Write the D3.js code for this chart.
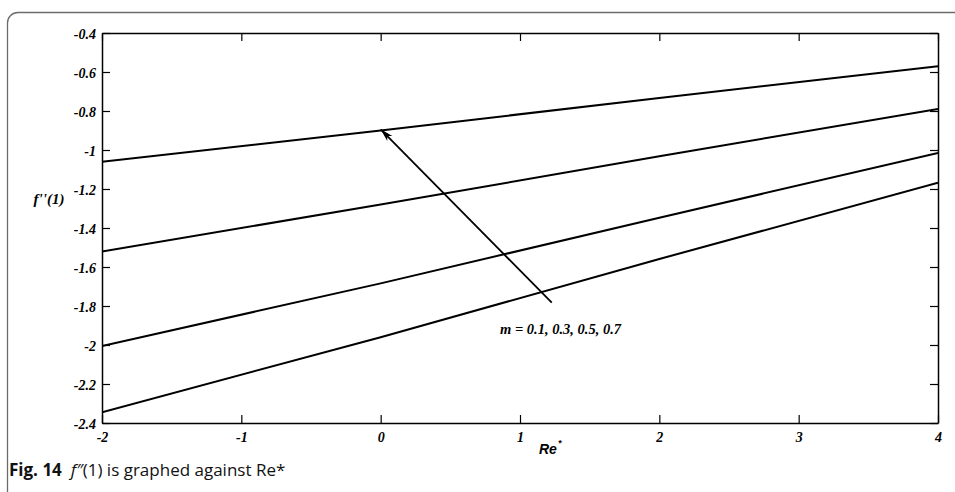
<!DOCTYPE html>
<html>
<head>
<meta charset="utf-8">
<script src="https://cdn.jsdelivr.net/npm/d3@7"></script>
<style>
  html, body { margin: 0; padding: 0; background: #fff; }
  svg { display: block; }
  .tick text { font-family: "Liberation Serif", "Times New Roman", serif; font-weight: bold; font-style: italic; font-size: 14px; fill: #000; }
</style>
</head>
<body>
<svg id="chart" width="955" height="492"></svg>
<script>
// Re* sample positions and the wall shear f''(1) for each m
const reValues = [-2, 0, 2, 4];
const mValues = ["0.1", "0.3", "0.5", "0.7"];
const fppM01 = [-2.345, -1.96, -1.559, -1.168];
const fppM03 = [-2.005, -1.684, -1.347, -1.015];
const fppM05 = [-1.52, -1.28, -1.032, -0.79];
const fppM07 = [-1.06, -0.90, -0.733, -0.571];

const xTicks = [-2, -1, 0, 1, 2, 3, 4];
const xTickLabels = ["-2", "-1", "0", "1", "2", "3", "4"];
const yTicks = [-0.4, -0.6, -0.8, -1, -1.2, -1.4, -1.6, -1.8, -2, -2.2, -2.4];
const yTickLabels = ["-0.4", "-0.6", "-0.8", "-1", "-1.2", "-1.4", "-1.6", "-1.8", "-2", "-2.2", "-2.4"];

// arrow indicating increasing m: tail [Re*, f''(1)] to head
const arrowTail = [1.228, -1.783];
const arrowHead = [0.0, -0.894];

const series = [fppM01, fppM03, fppM05, fppM07];

const svg = d3.select("#chart");
const margin = { left: 102, top: 33, right: 17, bottom: 69 };
const W = 955, H = 492;
const iw = W - margin.left - margin.right;
const ih = H - margin.top - margin.bottom;

// panel frame with rounded top-left corner
svg.append("path")
  .attr("d", `M955,12.5 L18,12.5 A10.5,10.5 0 0 0 7.5,23 L7.5,492`)
  .attr("fill", "none")
  .attr("stroke", "#6b6b6b")
  .attr("stroke-width", 1.3);

const g = svg.append("g").attr("transform", `translate(${margin.left},${margin.top})`);

const x = d3.scaleLinear().domain([-2, 4]).range([0, iw]);
const y = d3.scaleLinear().domain([-2.4, -0.4]).range([ih, 0]);

const tickLen = 8;

g.append("g").attr("class", "axis")
  .call(d3.axisLeft(y).tickValues(yTicks).tickSize(-tickLen).tickSizeOuter(0).tickPadding(6)
    .tickFormat((d, i) => yTickLabels[i]));
g.append("g").attr("class", "axis").attr("transform", `translate(${iw},0)`)
  .call(d3.axisRight(y).tickValues(yTicks).tickSize(-tickLen).tickSizeOuter(0).tickFormat(""));
g.append("g").attr("class", "axis").attr("transform", `translate(0,${ih})`)
  .call(d3.axisBottom(x).tickValues(xTicks).tickSize(-tickLen).tickSizeOuter(0).tickPadding(9)
    .tickFormat((d, i) => xTickLabels[i]));
g.append("g").attr("class", "axis")
  .call(d3.axisTop(x).tickValues(xTicks).tickSize(-tickLen).tickSizeOuter(0).tickFormat(""));

g.selectAll(".axis path.domain").attr("stroke", "#000").attr("stroke-width", 1.5);
g.selectAll(".axis .tick line").attr("stroke", "#000").attr("stroke-width", 1.2);
g.selectAll(".axis .tick text").attr("dy", function () {
  return d3.select(this).attr("dy") === "0.32em" ? "0.38em" : d3.select(this).attr("dy");
});

// clip so the curves stop at the frame
g.append("clipPath").attr("id", "plotClip")
  .append("rect").attr("x", 0).attr("y", 0).attr("width", iw).attr("height", ih);

const line = d3.line().x((d, i) => x(reValues[i])).y(d => y(d));

g.append("g").attr("clip-path", "url(#plotClip)")
  .selectAll("path.curve")
  .data(series)
  .join("path")
  .attr("class", "curve")
  .attr("d", d => line(d))
  .attr("fill", "none")
  .attr("stroke", "#000")
  .attr("stroke-width", 2);

// arrowhead marker
svg.append("defs").append("marker")
  .attr("id", "arrowHead")
  .attr("viewBox", "-14 -5 16 10")
  .attr("refX", 0).attr("refY", 0)
  .attr("markerWidth", 16).attr("markerHeight", 10)
  .attr("markerUnits", "userSpaceOnUse")
  .attr("orient", "auto")
  .append("path")
  .attr("d", "M0,0 L-13,-3.6 L-9.5,0 L-13,3.6 Z")
  .attr("fill", "#000");

g.append("line")
  .attr("x1", x(arrowTail[0])).attr("y1", y(arrowTail[1]))
  .attr("x2", x(arrowHead[0])).attr("y2", y(arrowHead[1]))
  .attr("stroke", "#000").attr("stroke-width", 1.8)
  .attr("marker-end", "url(#arrowHead)");

g.append("text")
  .attr("x", x(0.857)).attr("y", y(-1.944))
  .attr("font-family", "Liberation Serif, Times New Roman, serif")
  .attr("font-weight", "bold").attr("font-style", "italic")
  .attr("font-size", 14.5)
  .text("m = " + mValues.join(", "));

// axis titles
svg.append("text")
  .attr("x", 49).attr("y", 204)
  .attr("text-anchor", "middle")
  .attr("font-family", "Liberation Serif, Times New Roman, serif")
  .attr("font-weight", "bold").attr("font-style", "italic")
  .attr("font-size", 15)
  .text("f''(1)");

const xt = svg.append("text")
  .attr("x", 539).attr("y", 454)
  .attr("font-family", "Liberation Sans, Arial, sans-serif")
  .attr("font-weight", "bold").attr("font-style", "italic")
  .attr("font-size", 14);
xt.append("tspan").text("Re");
xt.append("tspan").attr("dy", -8).attr("dx", 1).attr("font-size", 9).text("*");

// figure caption
const cap = svg.append("text")
  .attr("x", 9).attr("y", 476)
  .attr("font-family", "Open Sans, Noto Sans, sans-serif")
  .attr("font-size", 17)
  .attr("fill", "#111");
cap.append("tspan").attr("font-weight", "bold").text("Fig. 14");
cap.append("tspan").attr("dx", 9).attr("font-style", "italic").text("f\u2033");
cap.append("tspan").text("(1) is graphed against Re*");
</script>
</body>
</html>
